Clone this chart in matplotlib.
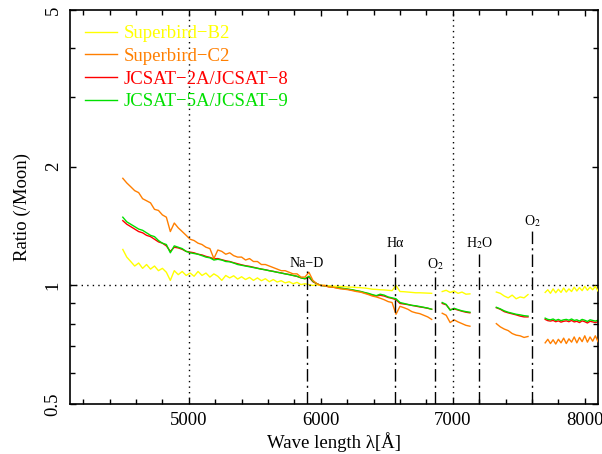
import numpy as np
from matplotlib import pyplot as plt
from matplotlib.ticker import FixedLocator, FixedFormatter, NullFormatter

plt.rcParams['font.family'] = ['Liberation Serif', 'DejaVu Serif']
plt.rcParams['mathtext.fontset'] = 'stix'

# wavelength grids of the four observed pieces (Angstrom)
wave_1 = np.arange(4500, 6841, 30)
wave_2 = np.arange(6920, 7131, 30)
wave_3 = np.arange(7330, 7571, 30)
wave_4 = np.arange(7700, 8101, 20)

# ---------------- Superbird-B2 (yellow) ----------------
b2_1 = [1.234, 1.18, 1.15, 1.12, 1.14, 1.105, 1.13, 1.10, 1.12, 1.09,
        1.105, 1.08, 1.03, 1.09, 1.065, 1.085, 1.06, 1.075, 1.055, 1.085,
        1.06, 1.075, 1.05, 1.07, 1.055, 1.03, 1.06, 1.045, 1.058, 1.038,
        1.052, 1.035, 1.048, 1.03, 1.045, 1.028, 1.04, 1.022, 1.035, 1.02,
        1.028, 1.015, 1.022, 1.01, 1.018, 1.005, 1.01, 1.005, 1.0, 1.004,
        1.0, 1.0, 0.998, 0.996, 0.995, 0.994, 0.993, 0.99, 0.99, 0.988,
        0.987, 0.985, 0.982, 0.978, 0.977, 0.975, 0.974, 0.972, 0.97, 1.0,
        0.965, 0.964, 0.962, 0.96, 0.958, 0.958, 0.957, 0.956, 0.955]
b2_2 = [0.965, 0.972, 0.96, 0.968, 0.955, 0.962, 0.95, 0.952]
b2_3 = [0.962, 0.955, 0.94, 0.93, 0.945, 0.925, 0.935, 0.93, 0.948]
b2_4 = [0.96, 0.975, 0.955, 0.98, 0.958, 0.978, 0.96, 0.985, 0.962, 0.98,
        0.965, 0.99, 0.968, 0.988, 0.97, 0.995, 0.972, 0.99, 0.975, 0.995,
        0.968]

# ---------------- Superbird-C2 (orange) ----------------
c2_1 = [1.87, 1.82, 1.78, 1.74, 1.72, 1.66, 1.64, 1.62, 1.56, 1.55,
        1.51, 1.49, 1.37, 1.44, 1.40, 1.37, 1.34, 1.31, 1.30, 1.28,
        1.27, 1.25, 1.24, 1.17, 1.23, 1.22, 1.20, 1.21, 1.19, 1.18,
        1.18, 1.16, 1.17, 1.15, 1.15, 1.13, 1.13, 1.12, 1.11, 1.10,
        1.09, 1.09, 1.08, 1.07, 1.07, 1.05, 1.05, 1.08, 1.03, 1.01,
        1.0, 1.0, 0.99, 0.99, 0.985, 0.98, 0.978, 0.975, 0.97, 0.965,
        0.962, 0.955, 0.948, 0.94, 0.935, 0.928, 0.92, 0.91, 0.905, 0.845,
        0.885, 0.878, 0.87, 0.858, 0.852, 0.848, 0.84, 0.832, 0.82]
c2_2 = [0.85, 0.84, 0.805, 0.818, 0.808, 0.80, 0.792, 0.788]
c2_3 = [0.80, 0.785, 0.775, 0.768, 0.755, 0.748, 0.745, 0.738, 0.742]
c2_4 = [0.715, 0.73, 0.712, 0.728, 0.71, 0.73, 0.715, 0.735, 0.712, 0.732,
        0.718, 0.74, 0.715, 0.738, 0.72, 0.745, 0.718, 0.74, 0.722, 0.745,
        0.72]

# ---------------- JCSAT-2A/JCSAT-8 (red) ----------------
j8_1 = [1.46, 1.43, 1.41, 1.39, 1.37, 1.36, 1.34, 1.33, 1.31, 1.29,
        1.28, 1.26, 1.22, 1.25, 1.245, 1.235, 1.22, 1.215, 1.21, 1.20,
        1.195, 1.185, 1.178, 1.168, 1.17, 1.162, 1.155, 1.15, 1.142, 1.135,
        1.128, 1.122, 1.118, 1.112, 1.106, 1.10, 1.096, 1.09, 1.086, 1.08,
        1.076, 1.07, 1.066, 1.06, 1.054, 1.046, 1.04, 1.05, 1.022, 1.01,
        1.0, 0.997, 0.994, 0.99, 0.987, 0.984, 0.98, 0.977, 0.973, 0.968,
        0.964, 0.958, 0.952, 0.945, 0.94, 0.944, 0.94, 0.932, 0.927, 0.92,
        0.90, 0.897, 0.894, 0.89, 0.886, 0.882, 0.879, 0.875, 0.87]
j8_2 = [0.90, 0.893, 0.868, 0.872, 0.866, 0.86, 0.855, 0.852]
j8_3 = [0.878, 0.87, 0.858, 0.852, 0.847, 0.842, 0.836, 0.832, 0.832]
j8_4 = [0.82, 0.814, 0.812, 0.815, 0.809, 0.813, 0.807, 0.811, 0.813, 0.809,
        0.815, 0.808, 0.811, 0.805, 0.813, 0.809, 0.803, 0.811, 0.808, 0.805,
        0.809]

# ---------------- JCSAT-5A/JCSAT-9 (green) ----------------
j9_1 = [1.49, 1.45, 1.43, 1.41, 1.39, 1.38, 1.36, 1.34, 1.33, 1.30,
        1.28, 1.27, 1.21, 1.26, 1.25, 1.24, 1.22, 1.21, 1.205, 1.20,
        1.19, 1.18, 1.175, 1.16, 1.165, 1.16, 1.15, 1.148, 1.14, 1.13,
        1.125, 1.12, 1.115, 1.11, 1.105, 1.10, 1.095, 1.09, 1.085, 1.08,
        1.075, 1.07, 1.065, 1.06, 1.055, 1.045, 1.04, 1.055, 1.025, 1.01,
        1.0, 0.998, 0.995, 0.99, 0.988, 0.985, 0.982, 0.978, 0.975, 0.97,
        0.966, 0.96, 0.955, 0.948, 0.942, 0.95, 0.945, 0.935, 0.93, 0.925,
        0.905, 0.90, 0.895, 0.89, 0.888, 0.884, 0.88, 0.876, 0.87]
j9_2 = [0.905, 0.895, 0.865, 0.875, 0.868, 0.862, 0.858, 0.855]
j9_3 = [0.88, 0.872, 0.862, 0.855, 0.85, 0.845, 0.842, 0.838, 0.836]
j9_4 = [0.826, 0.82, 0.818, 0.822, 0.815, 0.82, 0.814, 0.818, 0.82, 0.816,
        0.822, 0.815, 0.818, 0.812, 0.82, 0.816, 0.81, 0.818, 0.815, 0.812,
        0.816]

# spectral features marked with dash-dot lines
feat_wave = [5893, 6563, 6867, 7200, 7600]
feat_top = [1.085, 1.22, 1.087, 1.22, 1.40]
feat_label = ['Na\u2212D', 'H\u03b1', 'O$_2$', 'H$_2$O', 'O$_2$']
feat_label_y = [1.14, 1.28, 1.13, 1.28, 1.46]

yticks = [0.5, 1, 2, 5]
ytick_labels = ['0.5', '1', '2', '5']


def join(pieces_w, pieces_v):
    w, v = [], []
    for pw, pv in zip(pieces_w, pieces_v):
        w += list(pw) + [np.nan]
        v += list(pv) + [np.nan]
    return np.array(w, dtype=float), np.array(v, dtype=float)


waves = [wave_1, wave_2, wave_3, wave_4]
series = [
    ('Superbird\u2212B2', '#ffff00', [b2_1, b2_2, b2_3, b2_4], 3),
    ('Superbird\u2212C2', '#ff7f00', [c2_1, c2_2, c2_3, c2_4], 4),
    ('JCSAT\u22122A/JCSAT\u22128', '#ff0000', [j8_1, j8_2, j8_3, j8_4], 1),
    ('JCSAT\u22125A/JCSAT\u22129', '#00e000', [j9_1, j9_2, j9_3, j9_4], 2),
]

fig = plt.figure(figsize=(6.02, 4.54), dpi=100)
ax = fig.add_axes([0.1163, 0.110, 0.877, 0.868])

for name, col, pieces, z in series:
    w, v = join(waves, pieces)
    ax.plot(w, v, color=col, lw=1.0, label=name, zorder=z)

# reference lines
ax.axhline(1.0, color='black', lw=1.0, ls=(0, (1, 3)), zorder=5)
for xv in [5000, 7000]:
    ax.axvline(xv, color='black', lw=1.0, ls=(0, (1, 3)), zorder=5)

for xw, top, lab, ly in zip(feat_wave, feat_top, feat_label, feat_label_y):
    ax.plot([xw, xw], [0.5, top], color='black', lw=1.0,
            ls=(0, (9, 3, 1.5, 3)), zorder=6)
    ax.text(xw, ly, lab, ha='center', va='center', fontsize=10)

ax.set_yscale('log')
ax.set_xlim(4100, 8100)
ax.set_ylim(0.5, 5)

ax.xaxis.set_major_locator(FixedLocator([5000, 6000, 7000, 8000]))
ax.xaxis.set_minor_locator(FixedLocator(np.arange(4200, 8100, 200)))
ax.yaxis.set_major_locator(FixedLocator(yticks))
ax.yaxis.set_major_formatter(FixedFormatter(ytick_labels))
ax.yaxis.set_minor_locator(FixedLocator([0.6, 0.7, 0.8, 0.9, 3, 4]))
ax.yaxis.set_minor_formatter(NullFormatter())

ax.tick_params(which='both', direction='in', top=True, right=True,
               labelsize=13.5, width=1.0)
ax.tick_params(which='major', length=4, pad=6)
ax.tick_params(which='minor', length=3.5)
for t in ax.get_yticklabels():
    t.set_rotation(90)
    t.set_va('center')
for sp in ax.spines.values():
    sp.set_linewidth(1.2)

ax.set_xlabel('Wave length \u03bb[\u00c5]', fontsize=13.5, labelpad=2)
ax.set_ylabel('Ratio (/Moon)', fontsize=13.5, labelpad=10)

handles, labels = ax.get_legend_handles_labels()
ax.legend(handles, labels, loc='upper left', frameon=False, fontsize=13.5,
          handlelength=1.7, handletextpad=0.35, labelspacing=0.3,
          borderaxespad=0.4, labelcolor='linecolor')

fig.savefig('out.png', dpi=100)
